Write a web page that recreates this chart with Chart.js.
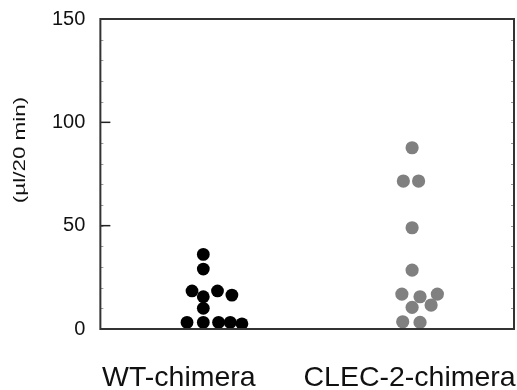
<!DOCTYPE html>
<html>
<head>
<meta charset="utf-8">
<title>Dot plot</title>
<script src="https://cdn.jsdelivr.net/npm/chart.js@4"></script>
<style>
  html, body { margin: 0; padding: 0; background: #fff; }
  #wrap { width: 517px; height: 390px; position: relative; }
</style>
</head>
<body>
<div id="wrap"><canvas id="chart"></canvas></div>
<script>
"use strict";

// data
const categories = ["WT-chimera", "CLEC-2-chimera"];
const yTicks = [0, 50, 100, 150];
const yTitle = "(\u00b5l/20 min)";

const wtValues = [36.1, 29.0, 18.4, 18.4, 16.4, 15.6, 10.0, 3.2, 3.2, 3.2, 3.2, 2.5];
const wtJitter = [0, 0, -0.054, 0.068, 0.137, 0, 0, -0.078, 0, 0.073, 0.129, 0.185];

const clecValues = [87.7, 71.6, 71.6, 49.0, 28.5, 16.9, 15.6, 16.9, 10.5, 11.6, 3.5, 3.2];
const clecJitter = [0, -0.042, 0.031, 0, 0, -0.049, 0.038, 0.121, 0, 0.091, -0.045, 0.038];

// where the category names sit on the x scale (not centred under the dots)
const labelPos = [-0.117, 0.988];

(function() {
  window.addEventListener("load", init);

  const FONT = "'Liberation Sans', Arial, sans-serif";
  const INK = "#111";

  function init() {
    let wtPoints = wtValues.map((v, i) => ({x: 0 + wtJitter[i], y: v}));
    let clecPoints = clecValues.map((v, i) => ({x: 1 + clecJitter[i], y: v}));

    // box round the plot + inward ticks + rotated y title + category names
    const frame = {
      id: "frame",
      afterDraw(chart) {
        let ctx = chart.ctx;
        let a = chart.chartArea;
        let x = chart.scales.x;
        let y = chart.scales.y;
        ctx.save();

        // minor ticks, both sides
        ctx.strokeStyle = "#999";
        ctx.lineWidth = 1;
        for (let v = y.min + 10; v < y.max; v += 10) {
          let py = Math.round(y.getPixelForValue(v)) + 0.5;
          ctx.beginPath();
          ctx.moveTo(a.left, py);
          ctx.lineTo(a.left + 3, py);
          ctx.moveTo(a.right, py);
          ctx.lineTo(a.right - 3, py);
          ctx.stroke();
        }

        // major ticks on the left
        ctx.strokeStyle = "#222";
        ctx.lineWidth = 1.5;
        yTicks.slice(1, -1).forEach(v => {
          let py = y.getPixelForValue(v);
          ctx.beginPath();
          ctx.moveTo(a.left, py);
          ctx.lineTo(a.left + 10, py);
          ctx.stroke();
        });

        ctx.strokeStyle = "#333";
        ctx.lineWidth = 2;
        ctx.strokeRect(a.left, a.top, a.right - a.left, a.bottom - a.top);

        // category names under the box
        ctx.fillStyle = INK;
        ctx.font = "28.5px " + FONT;
        ctx.textAlign = "center";
        ctx.textBaseline = "alphabetic";
        categories.forEach((c, i) => {
          ctx.fillText(c, x.getPixelForValue(labelPos[i]), a.bottom + 57);
        });

        // y title, stretched along its length like the original
        ctx.translate(20, 150);
        ctx.rotate(-Math.PI / 2);
        ctx.scale(1.32, 1);
        ctx.font = "17px " + FONT;
        ctx.textBaseline = "middle";
        ctx.fillText(yTitle, 0, 0);
        ctx.restore();
      }
    };

    const myChart = new Chart(id("chart"), {
      type: "scatter",
      data: {
        datasets: [{
          label: categories[0],
          data: wtPoints,
          backgroundColor: "#000",
          borderWidth: 0,
          pointRadius: 6.4,
          pointHoverRadius: 6.4
        }, {
          label: categories[1],
          data: clecPoints,
          backgroundColor: "#808080",
          borderWidth: 0,
          pointRadius: 6.6,
          pointHoverRadius: 6.6
        }]
      },
      options: {
        responsive: true,
        maintainAspectRatio: false,
        animation: false,
        devicePixelRatio: 1,
        events: [],
        layout: {
          autoPadding: false,
          padding: {left: 37, top: 19, right: 3, bottom: 61}
        },
        plugins: {
          legend: {display: false},
          tooltip: {enabled: false}
        },
        scales: {
          x: {
            type: "linear",
            min: -0.493,
            max: 1.488,
            grid: {display: false, drawTicks: false},
            border: {display: false},
            ticks: {display: false},
            afterFit: s => { s.paddingLeft = 0; s.paddingRight = 0; }
          },
          y: {
            min: 0,
            max: 150,
            grid: {display: false, drawTicks: false},
            border: {display: false},
            afterBuildTicks: s => { s.ticks = yTicks.map(v => ({value: v})); },
            afterFit: s => { s.paddingTop = 0; s.paddingBottom = 0; },
            ticks: {
              padding: 15,
              color: INK,
              font: {family: FONT, size: 20}
            }
          }
        }
      },
      plugins: [frame]
    });

    return myChart;
  }

  /**
   * Returns the element that has the ID attribute with the specified value.
   * @param {string} name - element ID.
   * @returns {object} - DOM object associated with id.
   */
  function id(name) {
    return document.getElementById(name);
  }
})();
</script>
</body>
</html>
